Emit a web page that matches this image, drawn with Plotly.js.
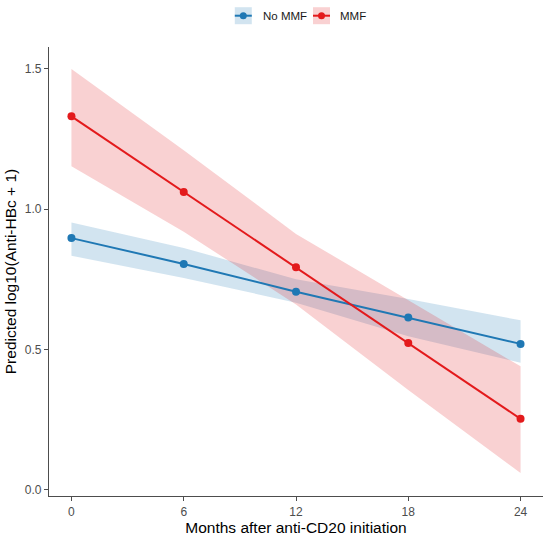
<!DOCTYPE html>
<html>
<head>
<meta charset="utf-8">
<script src="https://cdn.plot.ly/plotly-3.0.1.min.js"></script>
<style>html,body{margin:0;padding:0;background:#fff;}#chart{width:550px;height:539px;}</style>
</head>
<body>
<div id="chart"></div>
<script>
const months = [0, 6, 12, 18, 24];
const noMmfFit = [0.897, 0.805, 0.706, 0.614, 0.520];
const noMmfLower = [0.834, 0.755, 0.667, 0.547, 0.453];
const noMmfUpper = [0.953, 0.862, 0.750, 0.680, 0.604];
const mmfFit = [1.331, 1.061, 0.793, 0.523, 0.253];
const mmfLower = [1.153, 0.920, 0.660, 0.356, 0.060];
const mmfUpper = [1.500, 1.210, 0.912, 0.677, 0.440];
const seriesNames = ["No MMF", "MMF"];
const xTicks = [0, 6, 12, 18, 24];
const yTicks = [0, 0.5, 1.0, 1.5];

const blue = "#1F78B4", red = "#E31A1C";
const blueFill = "rgba(31,120,180,0.2)", redFill = "rgba(227,26,28,0.2)";
const colors = [blue, red], fills = [blueFill, redFill];

const W = 550, H = 539, M = {l: 49, r: 7, t: 47, b: 43};
const pw = W - M.l - M.r, ph = H - M.t - M.b;
const px2x = px => (px - M.l) / pw;
const py2y = py => 1 + (M.t - py) / ph;

function band(lower, upper, fill) {
  return {
    x: months.concat(months.slice().reverse()),
    y: upper.concat(lower.slice().reverse()),
    type: "scatter", mode: "lines", fill: "toself",
    fillcolor: fill, line: {width: 0}, hoverinfo: "skip", showlegend: false
  };
}
function line(y, color, name) {
  return {
    x: months, y: y, type: "scatter", mode: "lines+markers", name: name,
    line: {color: color, width: 2}, marker: {color: color, size: 8}, showlegend: false
  };
}
const data = [
  band(noMmfLower, noMmfUpper, blueFill),
  band(mmfLower, mmfUpper, redFill),
  line(noMmfFit, blue, seriesNames[0]),
  line(mmfFit, red, seriesNames[1])
];

// manual legend (keys in pixel sizes)
const keyCenters = [243.3, 321.5], textStarts = [261, 338], keyY = 15.7;
const shapes = [], annotations = [];
seriesNames.forEach((name, i) => {
  const cx = px2x(keyCenters[i]), cy = py2y(keyY);
  shapes.push({type: "rect", xref: "paper", yref: "paper", xsizemode: "pixel", ysizemode: "pixel",
    xanchor: cx, yanchor: cy, x0: -8.5, x1: 8.5, y0: -8.5, y1: 8.5,
    fillcolor: fills[i], line: {width: 0}});
  shapes.push({type: "line", xref: "paper", yref: "paper", xsizemode: "pixel", ysizemode: "pixel",
    xanchor: cx, yanchor: cy, x0: -8.5, x1: 8.5, y0: 0, y1: 0,
    line: {color: colors[i], width: 2}});
  shapes.push({type: "circle", xref: "paper", yref: "paper", xsizemode: "pixel", ysizemode: "pixel",
    xanchor: cx, yanchor: cy, x0: -3.5, x1: 3.5, y0: -3.5, y1: 3.5,
    fillcolor: colors[i], line: {width: 0}});
  annotations.push({text: name, xref: "paper", yref: "paper", x: px2x(textStarts[i]), y: py2y(keyY + 0.5),
    xanchor: "left", yanchor: "middle", showarrow: false,
    font: {family: "Liberation Sans, Arial", size: 11.5, color: "#1a1a1a"}});
});

const axisCommon = {
  showline: true, linecolor: "#4d4d4d", linewidth: 1.2,
  ticks: "outside", ticklen: 4, tickcolor: "#4d4d4d", tickwidth: 1,
  showgrid: false, zeroline: false,
  tickfont: {family: "Liberation Sans, Arial", size: 12, color: "#4d4d4d"}
};
const layout = {
  width: W, height: H,
  margin: M,
  paper_bgcolor: "#fff", plot_bgcolor: "#fff",
  font: {family: "Liberation Sans, Arial", color: "#000"},
  xaxis: Object.assign({}, axisCommon, {
    range: [-1.2, 25.2], tickvals: xTicks, ticktext: xTicks.map(String),
    title: {text: "Months after anti-CD20 initiation", font: {size: 15.5, color: "#000"}, standoff: 2}
  }),
  yaxis: Object.assign({}, axisCommon, {
    range: [-0.022, 1.578], tickvals: yTicks, ticktext: yTicks.map(v => v.toFixed(1)),
    title: {text: "Predicted log10(Anti-HBc + 1)", font: {size: 15.5, color: "#000"}, standoff: 4}
  }),
  showlegend: false,
  shapes: shapes,
  annotations: annotations
};
Plotly.newPlot("chart", data, layout, {displayModeBar: false, staticPlot: true});
</script>
</body>
</html>
